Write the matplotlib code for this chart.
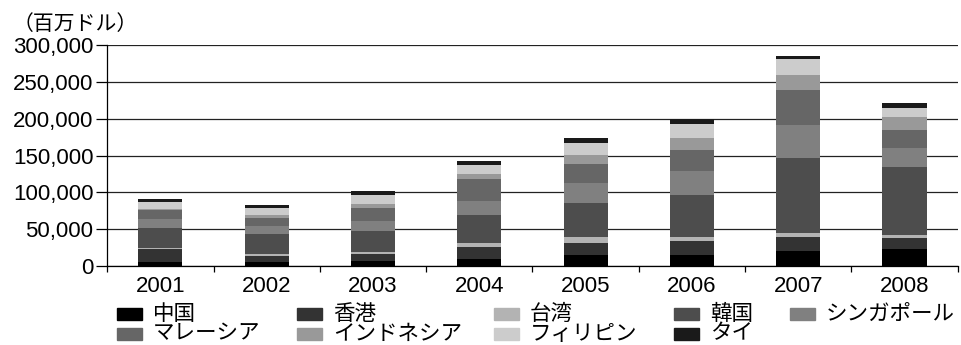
import matplotlib
matplotlib.use('Agg')
import matplotlib.pyplot as plt
from matplotlib.patches import Rectangle
from matplotlib.ticker import FuncFormatter
import numpy as np

plt.rcParams['font.family'] = ['Liberation Sans', 'Noto Sans CJK JP']

# values in 百万ドル
years = ['2001', '2002', '2003', '2004', '2005', '2006', '2007', '2008']
china = [5900, 5900, 7300, 10000, 15000, 15000, 20500, 23200]
hongkong = [17300, 7700, 9100, 15900, 16400, 19500, 19100, 15000]
taiwan = [1400, 3200, 2700, 5500, 8200, 5000, 5500, 4100]
korea = [26400, 27300, 28600, 38200, 46400, 57300, 102300, 92700]
singapore = [13200, 10500, 13600, 19100, 27300, 32700, 43600, 25900]
malaysia = [11400, 10900, 17700, 30000, 25900, 28600, 47700, 24500]
indonesia = [1400, 4100, 5500, 6800, 11800, 16400, 20500, 17700]
philippines = [9500, 8600, 12300, 12300, 16800, 19100, 21800, 12300]
thailand = [4100, 4100, 5500, 5500, 6800, 6800, 4100, 5500]

names = ['中国', '香港', '台湾', '韓国', 'シンガポール',
         'マレーシア', 'インドネシア', 'フィリピン', 'タイ']
series = [china, hongkong, taiwan, korea, singapore,
          malaysia, indonesia, philippines, thailand]
colors = ['#000000', '#333333', '#b3b3b3', '#4d4d4d', '#808080',
          '#666666', '#999999', '#cccccc', '#1a1a1a']

fig = plt.figure(figsize=(9.62, 3.45), dpi=100)
ax = fig.add_axes([0.1115, 0.229, 0.884, 0.6397])

x = np.arange(len(years))
bottom = np.zeros(len(years))
for vals, c in zip(series, colors):
    ax.bar(x, vals, width=0.415, bottom=bottom, color=c, zorder=2)
    bottom += np.array(vals)

ax.set_xlim(-0.5, len(years) - 0.5)
ax.set_ylim(0, 300000)
ax.set_yticks(np.arange(0, 300001, 50000))
ax.yaxis.set_major_formatter(FuncFormatter(lambda v, p: f'{int(v):,}'))
ax.yaxis.grid(True, color='#222222', linewidth=0.9, zorder=0)
ax.set_axisbelow(True)

ax.set_xticks(x)
ax.set_xticklabels(years)
ax.set_xticks(np.arange(-0.5, len(years)), minor=True)
ax.tick_params(axis='x', which='major', length=0, pad=7, labelsize=16)
ax.tick_params(axis='x', which='minor', length=4.5, width=0.9, direction='out')
ax.tick_params(axis='y', length=8, width=0.9, pad=2, labelsize=16)

for s in ['top', 'right']:
    ax.spines[s].set_visible(False)
for s in ['left', 'bottom']:
    ax.spines[s].set_linewidth(0.9)

fig.text(13 / 962, 1 - 24 / 345, '（百万ドル）', fontsize=15, va='center', ha='left')

# legend, two rows
col_left = [117, 297, 494, 674, 790]
row_mid = [314, 334]
W, H = 962, 345
for i, (n, c) in enumerate(zip(names, colors)):
    r, k = divmod(i, 5)
    x0 = col_left[k]
    y0 = row_mid[r]
    fig.add_artist(Rectangle((x0 / W, 1 - (y0 + 6) / H), 25 / W, 12 / H,
                             transform=fig.transFigure, color=c))
    fig.text((x0 + 36) / W, 1 - y0 / H, n, fontsize=15.5, va='center', ha='left')

fig.savefig('out.png', dpi=100)
